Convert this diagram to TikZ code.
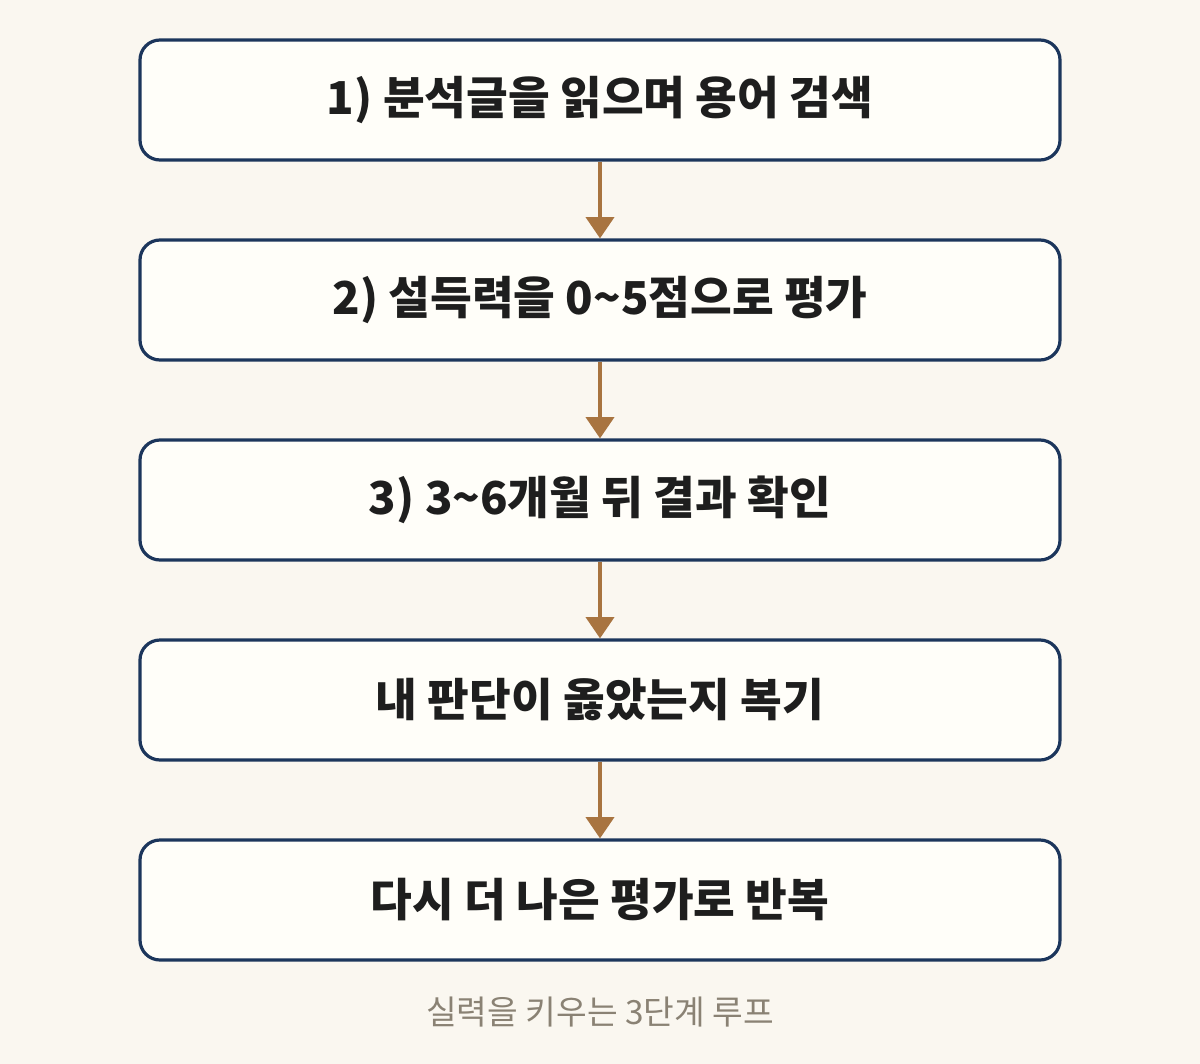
\documentclass[tikz,border=0pt]{standalone}
\usepackage{fontspec}
\setmainfont{Noto Sans CJK KR}
\usetikzlibrary{arrows.meta}
\definecolor{bgc}{HTML}{FAF7F0}
\definecolor{boxfill}{HTML}{FFFEF9}
\definecolor{boxline}{HTML}{1C365C}
\definecolor{arrowc}{HTML}{A87440}
\definecolor{textc}{HTML}{1E1E1E}
\definecolor{capc}{HTML}{8A8274}
\tikzset{
  stepbox/.style={draw=boxline, fill=boxfill, line width=2.4pt, rounded corners=15pt,
    minimum width=690pt, minimum height=90pt, inner sep=0pt,
    font=\fontsize{34}{40}\selectfont\bfseries, text=textc},
  flowarrow/.style={draw=arrowc, line width=3pt, -{Triangle[width=21pt,length=16pt]}, shorten >=0pt}
}
\begin{document}
\begin{tikzpicture}[x=0.75pt,y=-0.75pt]
\useasboundingbox[fill=bgc] (0,0) rectangle (1200,1064);
\node[stepbox] (s1) at (600,100) {1) 분석글을 읽으며 용어 검색};
\node[stepbox] (s2) at (600,300) {2) 설득력을 0\textasciitilde5점으로 평가};
\node[stepbox] (s3) at (600,500) {3) 3\textasciitilde6개월 뒤 결과 확인};
\node[stepbox] (s4) at (600,700) {내 판단이 옳았는지 복기};
\node[stepbox] (s5) at (600,900) {다시 더 나은 평가로 반복};
\foreach \a/\b in {s1/s2,s2/s3,s3/s4,s4/s5}
  \draw[flowarrow] (\a.south) -- (\b.north);
\node[text=capc, font=\fontsize{25}{30}\selectfont] (cap) at (600,1012) {실력을 키우는 3단계 루프};
\end{tikzpicture}
\end{document}
